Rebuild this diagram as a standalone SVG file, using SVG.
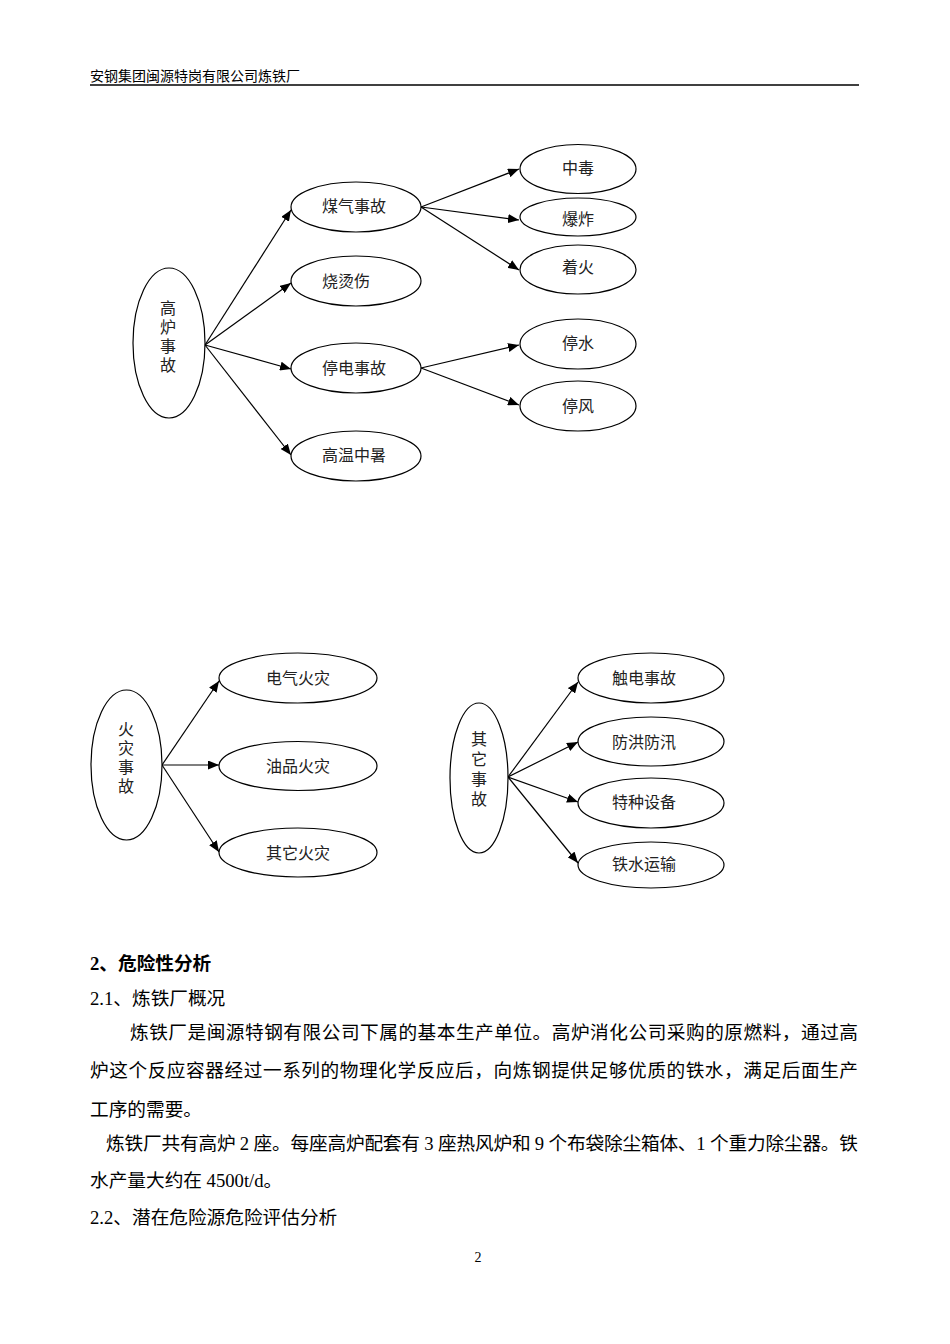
<svg xmlns="http://www.w3.org/2000/svg" width="950" height="1344" viewBox="0 0 950 1344">
<defs>
<marker id="ah" markerWidth="11" markerHeight="9" refX="11" refY="4.5" orient="auto" markerUnits="userSpaceOnUse">
<path d="M0,0 L11,4.5 L0,9 z" fill="#000"/>
</marker>
<style>
.n{fill:#fff;stroke:#000;stroke-width:1.2}
.c{fill:none;stroke:#000;stroke-width:1.2;marker-end:url(#ah)}
.t{font-family:"Noto Sans CJK SC","Liberation Sans",sans-serif;font-size:16px;fill:#222}
.v{font-family:"Noto Sans CJK SC","Liberation Sans",sans-serif;font-size:16px;fill:#222;writing-mode:vertical-rl;letter-spacing:3px}
.b{font-family:"Liberation Serif","Noto Sans CJK SC",serif;font-size:18.67px;fill:#000}
.h{font-family:"Liberation Serif","Noto Sans CJK SC",serif;font-size:14px;fill:#000}
</style>
</defs>
<rect width="950" height="1344" fill="#fff"/>
<text class="h" x="90" y="81">安钢集团闽源特岗有限公司炼铁厂</text>
<line x1="90" y1="85" x2="859" y2="85" stroke="#000" stroke-width="1.4"/>

<g id="connectors">
<line class="c" x1="205" y1="345" x2="291" y2="210"/>
<line class="c" x1="205" y1="345" x2="291" y2="283"/>
<line class="c" x1="205" y1="345" x2="291" y2="369"/>
<line class="c" x1="205" y1="345" x2="291" y2="455"/>
<line class="c" x1="421" y1="207" x2="519" y2="169"/>
<line class="c" x1="421" y1="207" x2="519" y2="220"/>
<line class="c" x1="421" y1="207" x2="519" y2="270"/>
<line class="c" x1="421" y1="368" x2="519" y2="345"/>
<line class="c" x1="421" y1="368" x2="519" y2="405"/>
<line class="c" x1="162" y1="765" x2="219" y2="681"/>
<line class="c" x1="162" y1="765" x2="219" y2="765"/>
<line class="c" x1="162" y1="765" x2="219" y2="852"/>
<line class="c" x1="508" y1="777" x2="578" y2="682"/>
<line class="c" x1="508" y1="777" x2="578" y2="742"/>
<line class="c" x1="508" y1="777" x2="578" y2="802"/>
<line class="c" x1="508" y1="777" x2="578" y2="863"/>
</g>

<g id="n-gaolu"><ellipse class="n" cx="169" cy="343" rx="36" ry="75"/>
<text class="v" x="168" y="300">高炉事故</text></g>
<g id="n-meiqi"><ellipse class="n" cx="356" cy="207" rx="65" ry="25"/><text class="t" x="322" y="212">煤气事故</text></g>
<g id="n-shaotang"><ellipse class="n" cx="356" cy="281" rx="65" ry="25"/><text class="t" x="322" y="287">烧烫伤</text></g>
<g id="n-tingdian"><ellipse class="n" cx="356" cy="368" rx="65" ry="25"/><text class="t" x="322" y="374">停电事故</text></g>
<g id="n-gaowen"><ellipse class="n" cx="356" cy="456" rx="65" ry="25"/><text class="t" x="322" y="461">高温中暑</text></g>
<g id="n-zhongdu"><ellipse class="n" cx="578" cy="169" rx="58" ry="24.5"/><text class="t" x="562" y="174">中毒</text></g>
<g id="n-baozha"><ellipse class="n" cx="578" cy="217" rx="58" ry="19"/><text class="t" x="562" y="225">爆炸</text></g>
<g id="n-zhaohuo"><ellipse class="n" cx="578" cy="269.5" rx="58" ry="24.5"/><text class="t" x="562" y="273">着火</text></g>
<g id="n-tingshui"><ellipse class="n" cx="578" cy="344" rx="58" ry="25"/><text class="t" x="562" y="349">停水</text></g>
<g id="n-tingfeng"><ellipse class="n" cx="578" cy="406" rx="58" ry="25"/><text class="t" x="562" y="412">停风</text></g>

<g id="n-huozai"><ellipse class="n" cx="126.5" cy="765" rx="35.5" ry="75"/>
<text class="v" x="126" y="721">火灾事故</text></g>
<g id="n-dianqi"><ellipse class="n" cx="298" cy="678" rx="79" ry="25"/><text class="t" x="266" y="684">电气火灾</text></g>
<g id="n-youpin"><ellipse class="n" cx="298" cy="766" rx="79" ry="24.5"/><text class="t" x="266" y="772">油品火灾</text></g>
<g id="n-qitahuo"><ellipse class="n" cx="298" cy="852.5" rx="79" ry="24.5"/><text class="t" x="266" y="859">其它火灾</text></g>

<g id="n-qita"><ellipse class="n" cx="479" cy="778" rx="29" ry="75"/>
<text class="v" x="479" y="731" style="letter-spacing:4px">其它事故</text></g>
<g id="n-chudian"><ellipse class="n" cx="651" cy="678" rx="73" ry="25"/><text class="t" x="612" y="684">触电事故</text></g>
<g id="n-fanghong"><ellipse class="n" cx="651" cy="741.5" rx="73" ry="24.5"/><text class="t" x="612" y="748">防洪防汛</text></g>
<g id="n-tezhong"><ellipse class="n" cx="651" cy="803" rx="73" ry="25"/><text class="t" x="612" y="808">特种设备</text></g>
<g id="n-tieshui"><ellipse class="n" cx="651" cy="865" rx="73" ry="23"/><text class="t" x="612" y="870">铁水运输</text></g>

<text class="b" x="90" y="970" font-weight="bold">2、危险性分析</text>
<text class="b" x="90" y="1005">2.1、炼铁厂概况</text>
<text class="b" x="130" y="1039" textLength="728" lengthAdjust="spacing">炼铁厂是闽源特钢有限公司下属的基本生产单位。高炉消化公司采购的原燃料，通过高</text>
<text class="b" x="90" y="1077" textLength="768" lengthAdjust="spacing">炉这个反应容器经过一系列的物理化学反应后，向炼钢提供足够优质的铁水，满足后面生产</text>
<text class="b" x="90" y="1116">工序的需要。</text>
<text class="b" x="106" y="1150" textLength="752" lengthAdjust="spacing">炼铁厂共有高炉 2 座。每座高炉配套有 3 座热风炉和 9 个布袋除尘箱体、1 个重力除尘器。铁</text>
<text class="b" x="90" y="1187">水产量大约在 4500t/d。</text>
<text class="b" x="90" y="1224">2.2、潜在危险源危险评估分析</text>
<text class="h" x="478" y="1262" text-anchor="middle">2</text>
</svg>
